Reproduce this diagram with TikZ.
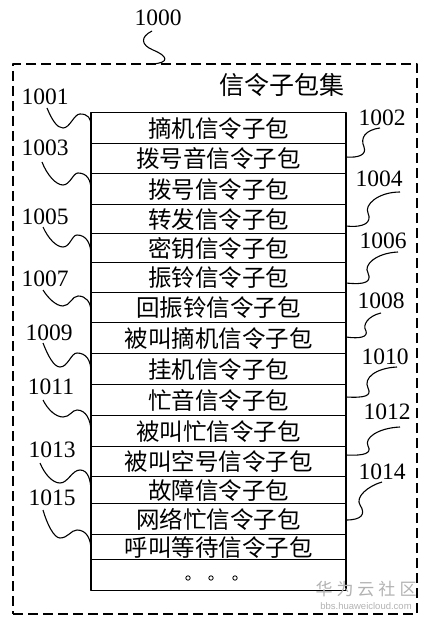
\documentclass[tikz,border=0pt]{standalone}
\usepackage{fontspec}
\setmainfont{Liberation Serif}
\newfontfamily\cjk{Noto Sans CJK SC}
\newfontfamily\wmsans{Liberation Sans}
\begin{document}
\begin{tikzpicture}[x=1pt,y=-1pt,line join=round,
  rowbox/.style={draw,line width=1.4pt,minimum width=255pt,inner sep=0pt,anchor=north,font=\cjk\fontsize{23.5}{23.5}\selectfont},
  numlab/.style={inner sep=0pt,font=\fontsize{23.5}{23.5}\selectfont},
  squig/.style={line width=1.1pt},
  setbox/.style={draw,line width=1.3pt,dash pattern=on 10pt off 5pt,minimum width=404pt,minimum height=550pt,inner sep=0pt},
  wm/.style={inner sep=0pt,text=black!30}]
\useasboundingbox (0,0) rectangle (435,620);
\node[setbox] (set) at (215,339) {};
\node[inner sep=0pt,font=\cjk\fontsize{25}{25}\selectfont] (title) at (282,85) {信令子包集};
\foreach \t/\b/\txt [count=\i] in {112/143/摘机信令子包,143/173/拨号音信令子包,173/204/拨号信令子包,204/233/转发信令子包,233/262/密钥信令子包,262/292/振铃信令子包,292/322/回振铃信令子包,322/353/被叫摘机信令子包,353/384/挂机信令子包,384/415/忙音信令子包,415/446/被叫忙信令子包,446/476/被叫空号信令子包,476/503/故障信令子包,503/534/网络忙信令子包,534/559/呼叫等待信令子包,559/590/{}}{
  \pgfmathsetmacro\h{\b-\t}
  \node[rowbox,minimum height=\h pt] (r\i) at (218.5,\t) {\txt};
}
\foreach \x [count=\k] in {188,211,235}{\draw[line width=0.8pt] (\x,578) circle (2.2pt);}
% labels
\node[numlab] (l1000) at (158,18) {1000};
\node[numlab] (l1001) at (45,97) {1001};
\node[numlab] (l1003) at (45,148) {1003};
\node[numlab] (l1005) at (45,217) {1005};
\node[numlab] (l1007) at (45,279) {1007};
\node[numlab] (l1009) at (49,333) {1009};
\node[numlab] (l1011) at (51,387) {1011};
\node[numlab] (l1013) at (52,450) {1013};
\node[numlab] (l1015) at (52,498) {1015};
\node[numlab] (l1002) at (382,118) {1002};
\node[numlab] (l1004) at (379,179) {1004};
\node[numlab] (l1006) at (383,241) {1006};
\node[numlab] (l1008) at (381,301) {1008};
\node[numlab] (l1010) at (385,357) {1010};
\node[numlab] (l1012) at (387,412) {1012};
\node[numlab] (l1014) at (382,472) {1014};
% squiggles
\draw[squig] (152,31) .. controls (140,37) and (141,45) .. (153,50) .. controls (168,56) and (170,63) .. (152,64);
\draw[squig] (47,108) .. controls (52,120) and (57,128) .. (63,128) .. controls (70,128) and (74,114) .. (80,114) .. controls (88,114) and (91,118) .. (91,126);
\draw[squig] (42,162) .. controls (47,175) and (56,185) .. (63,185) .. controls (70,185) and (73,173) .. (78,173) .. controls (87,173) and (91,180) .. (91,190);
\draw[squig] (43,227) .. controls (48,238) and (56,247) .. (63,247) .. controls (70,247) and (72,235) .. (77,235) .. controls (86,235) and (91,243) .. (91,255);
\draw[squig] (43,290) .. controls (48,298) and (56,306) .. (63,306) .. controls (70,306) and (72,296) .. (78,296) .. controls (86,296) and (91,302) .. (91,312);
\draw[squig] (43,343) .. controls (48,356) and (54,367) .. (60,367) .. controls (68,367) and (71,353) .. (77,353) .. controls (86,353) and (91,360) .. (91,372);
\draw[squig] (43,400) .. controls (48,410) and (56,417) .. (63,417) .. controls (70,417) and (72,410) .. (77,410) .. controls (86,410) and (91,420) .. (91,432);
\draw[squig] (40,463) .. controls (45,475) and (53,483) .. (60,483) .. controls (68,483) and (72,470) .. (80,470) .. controls (88,470) and (91,480) .. (91,492);
\draw[squig] (43,510) .. controls (47,524) and (54,538) .. (60,538) .. controls (68,538) and (71,530) .. (77,530) .. controls (86,530) and (91,538) .. (91,550);
\draw[squig] (380,128) .. controls (365,130) and (360,138) .. (364,147) .. controls (367,155) and (358,158) .. (346,157);
\draw[squig] (400,192) .. controls (378,192) and (364,205) .. (368,213) .. controls (372,222) and (365,228) .. (346,226);
\draw[squig] (398,252) .. controls (376,253) and (363,265) .. (368,273) .. controls (372,282) and (365,285) .. (346,283);
\draw[squig] (381,313) .. controls (368,316) and (362,325) .. (366,331) .. controls (368,337) and (360,339) .. (346,337);
\draw[squig] (397,367) .. controls (376,368) and (363,378) .. (368,388) .. controls (372,396) and (365,398) .. (346,397);
\draw[squig] (400,427) .. controls (378,428) and (364,438) .. (368,446) .. controls (372,453) and (365,456) .. (346,455);
\draw[squig] (382,482) .. controls (368,486) and (355,497) .. (360,505) .. controls (366,514) and (362,520) .. (346,520);
% watermark
\node[wm,font=\cjk\fontsize{17}{17}\selectfont] (wm1) at (366,589) {华\hspace{4pt}为\hspace{4pt}云\hspace{4pt}社\hspace{4pt}区};
\node[wm,font=\wmsans\fontsize{9.5}{9.5}\selectfont] (wm2) at (366,606) {bbs.huaweicloud.com};
\end{tikzpicture}
\end{document}
